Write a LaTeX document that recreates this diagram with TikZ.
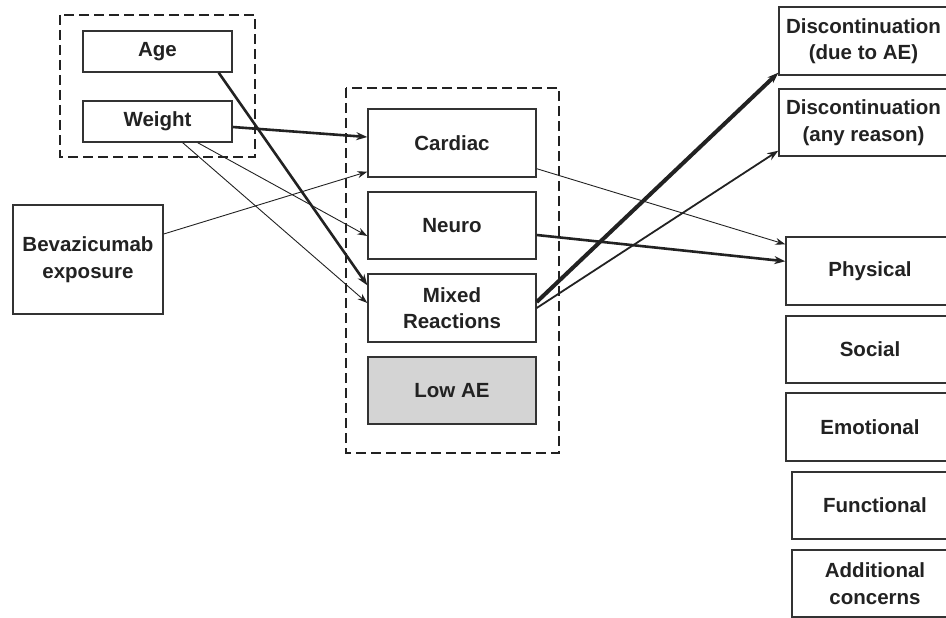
\documentclass[tikz,border=0pt]{standalone}
\usepackage{fontspec}
\setmainfont{Liberation Sans}
\usetikzlibrary{arrows.meta}
\definecolor{ink}{HTML}{222222}
\definecolor{edge}{HTML}{333333}
\definecolor{shade}{HTML}{D4D4D4}
\begin{document}
\begin{tikzpicture}[x=1pt,y=-1pt,
  box/.style={draw=edge, line width=1.4pt, rectangle, inner sep=0pt, align=center,
    text=ink, font=\fontsize{20.5}{26.5}\selectfont\bfseries},
  group/.style={draw=ink, line width=2pt, dash pattern=on 10pt off 5pt},
  link/.style={draw=ink, line width=0.9pt, -{Stealth[length=10pt,width=7pt]}},
  linkmid/.style={draw=ink, line width=1.8pt, -{Stealth[length=11pt,width=8pt]}},
  linkbold/.style={draw=ink, line width=2.6pt, -{Stealth[length=11pt,width=8pt]}},
  linkheavy/.style={draw=ink, line width=4pt, -{Stealth[length=11pt,width=8pt]}}]
\useasboundingbox (0,0) rectangle (946,618);

% dashed groupings
\draw[group] (60,15) rectangle (255,157);
\draw[group] (346,88) rectangle (559,453);

% covariates
\node[box, minimum width=149pt, minimum height=41pt] (age) at (157.5,51.5) {Age};
\node[box, minimum width=149pt, minimum height=41pt] (weight) at (157.5,121.5) {Weight};
\node[box, minimum width=150pt, minimum height=109pt] (bev) at (88,259.5) {Bevazicumab\\exposure};

% adverse event classes
\node[box, minimum width=168pt, minimum height=68pt] (cardiac) at (452,143) {Cardiac};
\node[box, minimum width=168pt, minimum height=67pt] (neuro) at (452,225.5) {Neuro};
\node[box, minimum width=168pt, minimum height=68pt] (mixed) at (452,308) {Mixed\\Reactions};
\node[box, fill=shade, minimum width=168pt, minimum height=67pt] (lowae) at (452,390.5) {Low AE};

% outcomes
\node[box, minimum width=169pt, minimum height=68pt] (disc1) at (863.5,41) {Discontinuation\\(due to AE)};
\node[box, minimum width=169pt, minimum height=67pt] (disc2) at (863.5,122.5) {Discontinuation\\(any reason)};
\node[box, minimum width=168pt, minimum height=68pt] (physical) at (870,271) {Physical};
\node[box, minimum width=168pt, minimum height=67pt] (social) at (870,349.5) {Social};
\node[box, minimum width=168pt, minimum height=68pt] (emotional) at (870,427) {Emotional};
\node[box, minimum width=166pt, minimum height=67pt] (functional) at (875,505.5) {Functional};
\node[box, minimum width=166pt, minimum height=67pt] (additional) at (875,583.5) {Additional\\concerns};

% associations
\draw[linkbold] ([xshift=-14pt]age.south east) -- ([yshift=-12pt]mixed.north west);
\draw[linkbold] ([yshift=-5.5pt]weight.east) -- ([yshift=6pt]cardiac.west);
\draw[link] ([xshift=-35pt]weight.south east) -- ([yshift=-10.5pt]neuro.west);
\draw[link] ([xshift=-50pt]weight.south east) -- ([yshift=5pt]mixed.west);
\draw[link] ([yshift=25.5pt]bev.east) -- ([yshift=6pt]cardiac.south west);
\draw[link] ([yshift=9pt]cardiac.south east) -- ([yshift=-8pt]physical.north west);
\draw[linkbold] ([yshift=-9.5pt]neuro.east) -- ([yshift=-25pt]physical.north west);
\draw[linkheavy] ([yshift=6pt]mixed.east) -- ([yshift=3pt]disc1.south west);
\draw[linkmid] (mixed.east) -- ([yshift=6pt]disc2.south west);
\end{tikzpicture}
\end{document}
